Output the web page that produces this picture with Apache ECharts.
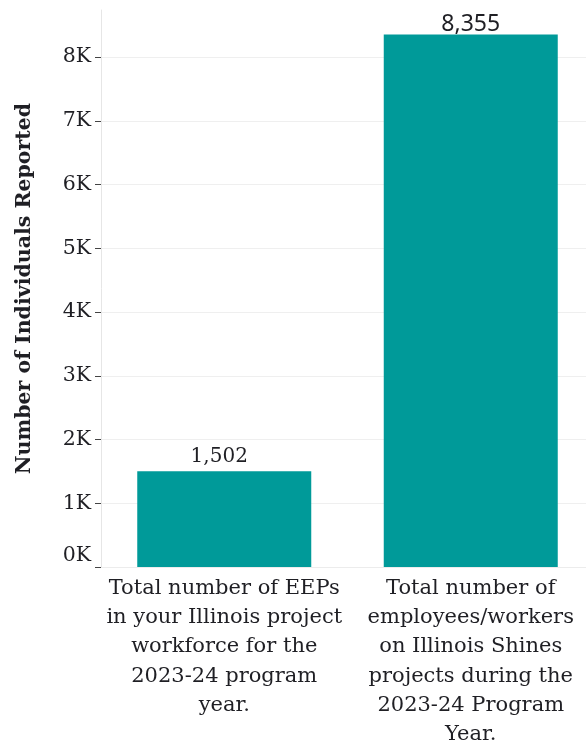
<!DOCTYPE html>
<html>
<head>
<meta charset="utf-8">
<script src="https://cdn.jsdelivr.net/npm/echarts@6/dist/echarts.min.js"></script>
<style>
  html, body { margin: 0; padding: 0; background: #fff; }
  #chart { width: 586px; height: 744px; }
</style>
</head>
<body>
<div id="chart"></div>
<script>
// Categories (line breaks are part of the displayed labels)
const categories = [
  'Total number of EEPs\nin your Illinois project\nworkforce for the\n2023-24 program\nyear.',
  'Total number of\nemployees/workers\non Illinois Shines\nprojects during the\n2023-24 Program\nYear.'
];
const individuals = [1502, 8355];
const yTicks = [0, 1000, 2000, 3000, 4000, 5000, 6000, 7000, 8000];
const yTitle = 'Number of Individuals Reported';

const serif = '"DejaVu Serif", serif';
const sans = '"Noto Sans", sans-serif';
const textColor = '#1f1f24';

const chart = echarts.init(document.getElementById('chart'), null, { renderer: 'canvas' });

// Per-bar value label styling
const valueLabels = [
  { fontFamily: serif, fontSize: 20, distance: 4, offset: [-5, 0] },
  { fontFamily: sans, fontSize: 23, distance: -1.5, offset: [0, 0] }
];

chart.setOption({
  animation: false,
  backgroundColor: '#fff',
  grid: {
    left: 101, top: 10, width: 493, height: 557,
    containLabel: false,
    outerBoundsMode: 'none'
  },
  xAxis: {
    type: 'category',
    data: categories,
    axisLine: { show: true, lineStyle: { color: '#ececec', width: 1 } },
    axisTick: { show: false },
    axisLabel: {
      interval: 0,
      margin: 7,
      fontFamily: serif,
      fontSize: 21,
      lineHeight: 29.2,
      color: textColor,
      align: 'center'
    }
  },
  yAxis: {
    type: 'value',
    min: 0,
    max: 8740,
    interval: 1000,
    name: yTitle,
    nameLocation: 'middle',
    nameGap: 66,
    nameRotate: 90,
    nameTextStyle: { fontFamily: serif, fontWeight: 'bold', fontSize: 20.5, color: textColor },
    axisLine: { show: true, lineStyle: { color: '#e6e6e6', width: 1 } },
    axisTick: { show: true, length: 6, lineStyle: { color: '#444', width: 1 } },
    splitLine: { show: true, showMaxLine: false, lineStyle: { color: '#efefef', width: 1 } },
    axisLabel: {
      showMaxLabel: false,
      margin: 10,
      fontFamily: serif,
      fontSize: 20.5,
      color: textColor,
      formatter: function (v) {
        if (yTicks.indexOf(v) < 0) return '';
        if (v === 0) return '{zero|0K}';
        return (v / 1000) + 'K';
      },
      rich: {
        zero: { fontFamily: serif, fontSize: 20.5, color: textColor, padding: [0, 0, 23, 0] }
      }
    }
  },
  series: [{
    type: 'bar',
    barWidth: 174,
    itemStyle: { color: '#009a99' },
    data: individuals.map(function (v, i) {
      return {
        value: v,
        label: {
          show: true,
          position: 'top',
          distance: valueLabels[i].distance,
          offset: valueLabels[i].offset,
          fontFamily: valueLabels[i].fontFamily,
          fontSize: valueLabels[i].fontSize,
          color: textColor,
          formatter: function (p) { return p.value.toLocaleString('en-US'); }
        }
      };
    })
  }]
});
</script>
</body>
</html>
